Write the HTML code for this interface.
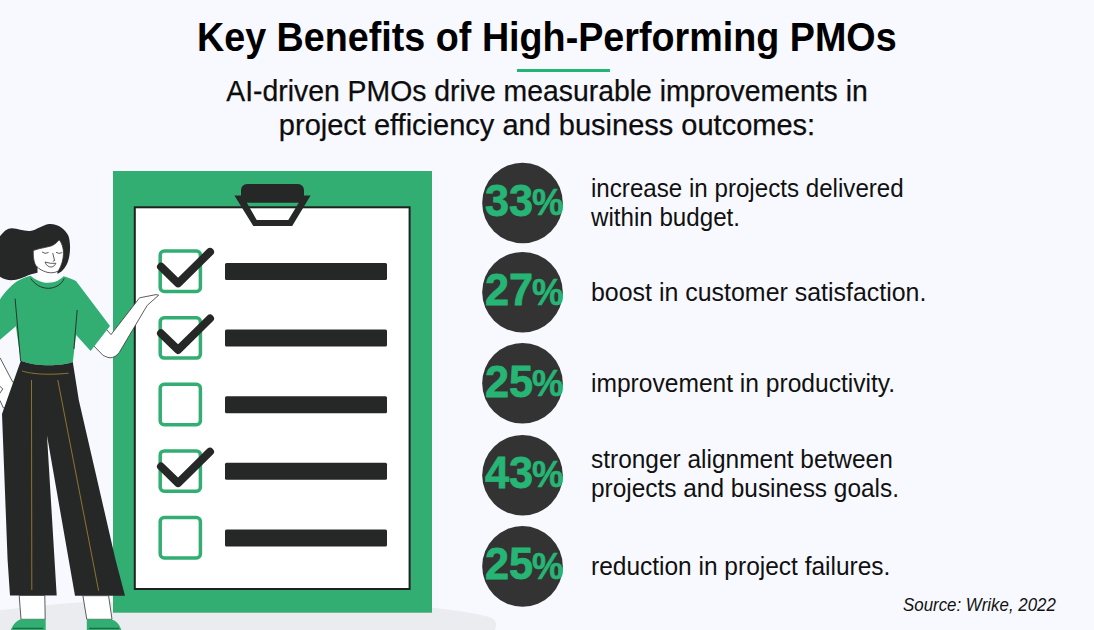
<!DOCTYPE html>
<html><head><meta charset="utf-8">
<style>
html,body{margin:0;padding:0}
body{width:1094px;height:630px;overflow:hidden;background:#F8F9FF;position:relative;font-family:"Liberation Sans",sans-serif}
svg.art{position:absolute;left:0;top:0}
.t{position:absolute;white-space:nowrap;line-height:1}
.c{left:0;width:1094px;text-align:center}
.c span{display:inline-block;transform-origin:50% 50%}
.title{font-weight:bold;font-size:40.5px;color:#000}
.sub{font-size:29px;color:#0d0d0d;-webkit-text-stroke:0.25px #0d0d0d}
.d{font-size:25px;color:#111;left:590.5px;transform-origin:0 0}
.p{font-weight:bold;font-size:45px;color:#26B574;-webkit-text-stroke:0.8px #26B574;left:485px;transform-origin:0 0;transform:scaleX(0.961)}
.pc{font-weight:bold;font-size:37px;color:#26B574;-webkit-text-stroke:0.6px #26B574;left:532px;transform-origin:0 0;transform:scaleX(0.95)}
.src{font-style:italic;font-size:17.5px;color:#111;left:903px}
</style></head><body>
<svg class="art" width="1094" height="630" viewBox="0 0 1094 630">
  <!-- floor -->
  <path d="M-5 611 Q60 602.5 100 601.5 L380 603 C440 607 482 614 492 618 C497 621 497 626 494 632 L-5 632 Z" fill="#EBECF0"/>
  <!-- clipboard -->
  <rect x="113" y="171" width="319" height="441.7" fill="#32AE72"/>
  <rect x="134.8" y="207.3" width="274.8" height="381.7" fill="#fff" stroke="#1F2020" stroke-width="2"/>
  <rect x="241" y="184" width="63" height="18.6" rx="6" fill="#262828"/>
  <path d="M234.4 195.6 L310.6 195.6 L292.2 226.1 L253.3 226.1 Z M246.7 202.4 L256.7 220 L288.3 220 L298.9 202.4 Z" fill="#262828" fill-rule="evenodd"/>
  <!-- checkboxes -->
  <g fill="none" stroke="#32AE72" stroke-width="3.5">
    <rect x="160.2" y="251.1" width="40.2" height="40.4" rx="4"/>
    <rect x="160.2" y="317.7" width="40.2" height="40.4" rx="4"/>
    <rect x="160.2" y="384.3" width="40.2" height="40.4" rx="4"/>
    <rect x="160.2" y="450.9" width="40.2" height="40.4" rx="4"/>
    <rect x="160.2" y="517.5" width="40.2" height="40.4" rx="4"/>
  </g>
  <g fill="#262828">
    <rect x="225" y="263" width="162" height="17" rx="1.5"/>
    <rect x="225" y="329.6" width="162" height="17" rx="1.5"/>
    <rect x="225" y="396.2" width="162" height="17" rx="1.5"/>
    <rect x="225" y="462.8" width="162" height="17" rx="1.5"/>
    <rect x="225" y="529.4" width="162" height="17" rx="1.5"/>
  </g>
  <g fill="none" stroke="#262828" stroke-width="8" stroke-linecap="round" stroke-linejoin="round">
    <polyline points="161,266.7 178.1,283.3 210,251.9"/>
    <polyline points="161,333.3 178.1,349.9 210,318.5"/>
    <polyline points="161,466.5 178.1,483.1 210,451.7"/>
  </g>
  <!-- circles -->
  <g fill="#333333">
    <circle cx="522.5" cy="203" r="40.3"/>
    <circle cx="522.5" cy="292.2" r="40.3"/>
    <circle cx="522.5" cy="383.3" r="40.3"/>
    <circle cx="522.5" cy="475.2" r="40.3"/>
    <circle cx="522.5" cy="566.4" r="40.3"/>
  </g>
  <!-- underline -->
  <rect x="517" y="69" width="93" height="3" fill="#22B573"/>
  <!-- woman -->
  <g id="woman">
    <!-- hair -->
    <path d="M-1 237.5 L0 236.3 C4 231 8 228 12 228.3 C18 228.5 24 231.5 30 231 C37 230 42 225 49 224 C58 223.5 65 229 68.5 236 C71 244 70.5 256 67 264 C64 270 60 273 57 274 C50 273 42 272 36.2 273 C28 274.5 22 279 14.3 280.1 C8 280.8 3 279 -1 276 Z" fill="#262828"/>
    <!-- neck -->
    <path d="M37.5 266 L37.5 285 L58 285 L57.1 266 Z" fill="#fff"/>
    <!-- face -->
    <path d="M33.3 250.6 C38 248.5 46 247.5 51 246 C55 244.5 57.5 242 59 239.8 C61.5 242 63.5 248 63.5 253 C63.5 259 61.5 266 58.4 270.9 C55 273 51 273 48 272.5 C42 271 37 268 35 264 C33.5 260 33 255 33.3 250.6 Z" fill="#fff" stroke="#333" stroke-width="0.8"/>
    <path d="M42 252 Q45 254.5 48.5 252.5 M56 252.3 Q59 254.5 62.3 252.5" fill="none" stroke="#333" stroke-width="0.8"/>
    <path d="M52.7 253 L54.6 260.5 L52.8 261.3" fill="none" stroke="#333" stroke-width="0.8"/>
    <path d="M45 262 Q47 267.5 52 267 Q55 266 55.9 263.3 Q51 264 45 262 Z" fill="#fff" stroke="#333" stroke-width="0.8"/>
    <!-- right arm -->
    <path d="M100 322 L111 334.6 L139.6 297.8 L156 294.6 L158.7 295.2 L147.2 305.4 L119.3 352.4 C117 356 113 357.8 110 357.8 C107 357.5 105 356 103.3 355.6 L88 340 Z" fill="#fff" stroke="#333" stroke-width="0.8" stroke-linejoin="round"/>
    <!-- shirt -->
    <path d="M-10 305 L0 299.4 C5 292 12 284 19 280.3 C23 278 27 276.5 30.7 275.7 C36 280.5 42 282.8 48.3 282.8 C55 282.8 60 280 63.6 276.3 C68 277.5 73 279.5 76 281 L110 326.1 L90.6 351.1 L76.1 335 L72.8 362 C60 366.5 35 366.5 20.8 360.7 L15.9 326.3 L0 339.8 L-10 345 Z" fill="#32AE72"/>
    <path d="M30.7 278.5 C35 284.5 41 288.3 48.3 288.3 C55.5 288.3 62 284 64.2 278.5" fill="none" stroke="#262828" stroke-width="0.9"/>
    <path d="M15.1 298.6 L20.6 361" fill="none" stroke="#262828" stroke-width="0.9"/>
    <path d="M77.2 310 L73.9 348.9" fill="none" stroke="#262828" stroke-width="0.9"/>
    <!-- left arm -->
    <path d="M-2 356 L0 357.8 L12.8 382.2 L22 382 L22 410 L3.3 407.8 L0 400.5 L-2 400.5 Z" fill="#fff" stroke="#333" stroke-width="0.8"/>
    <path d="M-1 385.5 L2.8 388.9 L-1 394.4" fill="none" stroke="#333" stroke-width="0.8"/>
    <!-- pants -->
    <path d="M20.8 360.7 C35 366.5 60 366.5 72.8 362 L78.8 400 L115.6 560 L125 595.7 L75 595.7 L47 435.6 L56.7 595.5 L10 595.5 L7.6 560 L2 414 Z" fill="#262828"/>
    <path d="M22 371 C30 373.5 45 375.5 68.5 373.2" fill="none" stroke="#9E7A2F" stroke-width="0.9"/>
    <path d="M31.5 380 L31.8 590" fill="none" stroke="#9E7A2F" stroke-width="0.9"/>
    <path d="M57.8 380 L98.6 590.7" fill="none" stroke="#9E7A2F" stroke-width="0.9"/>
    <!-- socks -->
    <path d="M19.2 595.5 L21 619.3 L45.2 619.3 L44.8 595.5 Z" fill="#fff" stroke="#333" stroke-width="0.8"/>
    <path d="M82.9 595.7 L86.8 619.3 L112 619.3 L108.6 595.7 Z" fill="#fff" stroke="#333" stroke-width="0.8"/>
    <!-- shoes -->
    <path d="M21 619.3 L45.7 619.3 L45.7 632 L10 632 C12 626 16 620.5 21 619.3 Z" fill="#32AE72"/>
    <path d="M86.8 619.3 L110 619.3 C116 620 120 625 122 632 L86.8 632 Z" fill="#32AE72"/>
    <path d="M13 628.4 L43 628.4 M89 628.4 L119 628.4" stroke="#1F6B45" stroke-width="1.2"/>
  </g>
</svg>

<div class="t c title" style="top:17.05px"><span style="transform:scaleX(0.931)">Key Benefits of High-Performing PMOs</span></div>
<div class="t c sub" style="top:77.1px"><span style="transform:scaleX(0.978)">AI-driven PMOs drive measurable improvements in</span></div>
<div class="t c sub" style="top:111.3px"><span style="transform:scaleX(1.0)">project efficiency and business outcomes:</span></div>

<div class="t p" style="top:177.95px">33</div><div class="t pc" style="top:184.1px">%</div>
<div class="t p" style="top:267.45px">27</div><div class="t pc" style="top:273.6px">%</div>
<div class="t p" style="top:358.95px">25</div><div class="t pc" style="top:365.1px">%</div>
<div class="t p" style="top:450.15px">43</div><div class="t pc" style="top:456.3px">%</div>
<div class="t p" style="top:541.35px">25</div><div class="t pc" style="top:547.5px">%</div>

<div class="t d" style="top:175.55px;transform:scaleX(0.9658)">increase in projects delivered</div>
<div class="t d" style="top:204.75px;transform:scaleX(0.9658)">within budget.</div>
<div class="t d" style="top:280.15px;transform:scaleX(0.9974)">boost in customer satisfaction.</div>
<div class="t d" style="top:371.25px;transform:scaleX(0.9830)">improvement in productivity.</div>
<div class="t d" style="top:446.85px;transform:scaleX(0.9782)">stronger alignment between</div>
<div class="t d" style="top:476.45px;transform:scaleX(0.9763)">projects and business goals.</div>
<div class="t d" style="top:553.75px;transform:scaleX(0.9792)">reduction in project failures.</div>

<div class="t src" style="top:597.2px;transform:scaleX(0.964);transform-origin:0 0">Source: Wrike, 2022</div>
</body></html>
